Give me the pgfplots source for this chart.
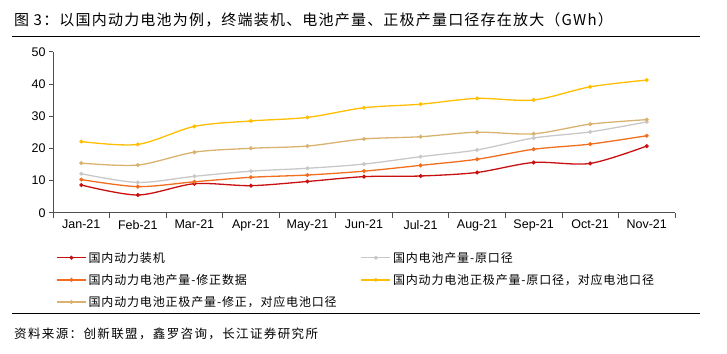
\documentclass[border=0pt]{standalone}
\usepackage{pgfplots}
\pgfplotsset{compat=1.18}
\usepackage{fontspec}
\setmainfont{Liberation Sans}
\newfontfamily\cjktitle[LetterSpace=8]{Noto Sans CJK SC}
\newfontfamily\cjkleg[LetterSpace=7]{Noto Sans CJK SC}
\newfontfamily\cjksrc[LetterSpace=11]{Noto Sans CJK SC}
\definecolor{cRed}{RGB}{200,16,16}
\definecolor{cGray}{RGB}{200,200,200}
\definecolor{cOrange}{RGB}{240,110,30}
\definecolor{cYellow}{RGB}{255,190,0}
\definecolor{cTan}{RGB}{218,178,112}
\definecolor{axisgray}{RGB}{80,80,80}
\begin{document}
\begin{tikzpicture}[x=1pt,y=1pt]
\useasboundingbox (0,0) rectangle (727,-353);
\node[anchor=base west, inner sep=0, font=\cjktitle\fontsize{15}{17}\selectfont] at (14,-26) {图 3：以国内动力电池为例，终端装机、电池产量、正极产量口径存在放大（GWh）};
\draw[line width=1pt] (12,-37) -- (700,-37);
\begin{axis}[
  scale only axis, width=622pt, height=161pt,
  at={(53pt,-212.7pt)}, anchor=south west,
  xmin=-0.5, xmax=10.5, ymin=0, ymax=50,
  axis lines=left,
  axis line style={-, draw=axisgray, line width=0.8pt},
  xtick={0,...,10},
  xticklabels={Jan-21,Feb-21,Mar-21,Apr-21,May-21,Jun-21,Jul-21,Aug-21,Sep-21,Oct-21,Nov-21},
  minor xtick={-0.5,0.5,...,10.5},
  major x tick style={draw=none},
  ytick={0,10,...,50},
  tick align=outside,
  major tick length=4pt, minor tick length=5pt,
  tick style={draw=axisgray, line width=0.8pt},
  ticklabel style={font=\fontsize{12.5}{14}\selectfont},
  /pgf/number format/assume math mode=true,
  every axis plot/.append style={line width=1.3pt, smooth, mark=*, mark size=1.3pt},
  legend columns=2,
  legend cell align=left,
  legend image code/.code={\draw[mark repeat=2,mark phase=2] plot coordinates {(0pt,0pt)(14.5pt,0pt)(29pt,0pt)};},
  legend style={draw=none, fill=none, at={(axis description cs:0.005,-0.23)}, anchor=north west, inner sep=0pt,
    font=\cjkleg\fontsize{12}{15}\selectfont, row sep=6.5pt,
    /tikz/column 2/.style={column sep=22pt}},
]
\addplot[cRed, mark options={fill=cRed}] coordinates {(0,8.6)(1,5.5)(2,9.0)(3,8.4)(4,9.7)(5,11.2)(6,11.4)(7,12.5)(8,15.6)(9,15.3)(10,20.7)};
\addlegendentry{国内动力装机}
\addplot[cGray, mark options={fill=cGray}] coordinates {(0,12.1)(1,9.4)(2,11.3)(3,12.9)(4,13.8)(5,15.1)(6,17.4)(7,19.5)(8,23.2)(9,25.1)(10,28.2)};
\addlegendentry{国内电池产量-原口径}
\addplot[cOrange, mark options={fill=cOrange}] coordinates {(0,10.3)(1,8.1)(2,9.6)(3,11.0)(4,11.7)(5,12.9)(6,14.7)(7,16.6)(8,19.7)(9,21.3)(10,23.9)};
\addlegendentry{国内动力电池产量-修正数据}
\addplot[cYellow, mark options={fill=cYellow}] coordinates {(0,22.1)(1,21.2)(2,26.8)(3,28.5)(4,29.6)(5,32.6)(6,33.7)(7,35.5)(8,35.0)(9,39.1)(10,41.2)};
\addlegendentry{国内动力电池正极产量-原口径，对应电池口径}
\addplot[cTan, mark options={fill=cTan}] coordinates {(0,15.4)(1,14.8)(2,18.8)(3,20.0)(4,20.7)(5,22.9)(6,23.6)(7,25.0)(8,24.5)(9,27.5)(10,28.9)};
\addlegendentry{国内动力电池正极产量-修正，对应电池口径}
\end{axis}
\draw[line width=1pt] (12,-313) -- (700,-313);
\node[anchor=base west, inner sep=0, font=\cjksrc\fontsize{12.5}{15}\selectfont] at (14,-338) {资料来源：创新联盟，鑫罗咨询，长江证券研究所};
\end{tikzpicture}
\end{document}
